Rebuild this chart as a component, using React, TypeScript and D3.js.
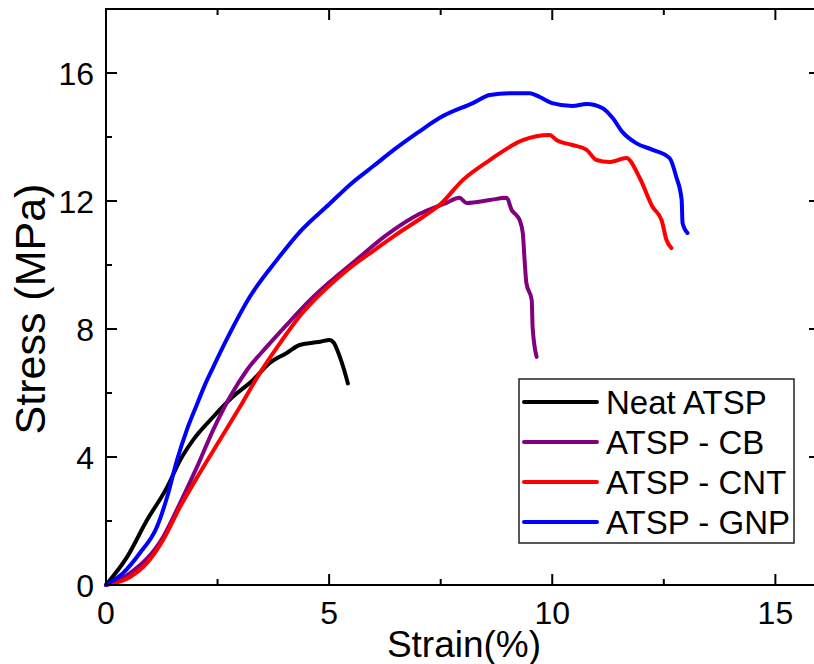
import React from "react";
import * as d3 from "d3";

const seriesNames = ["Neat ATSP", "ATSP - CB", "ATSP - CNT", "ATSP - GNP"];
const seriesColors = ["#000000", "#800080", "#ff0000", "#0000ff"];

const neatX = [0, 0.47, 0.92, 1.37, 1.66, 1.95, 2.4, 2.84, 3.29, 3.67, 4.05, 4.34, 4.63, 4.8, 5.01, 5.1, 5.24, 5.33, 5.42];
const neatY = [0, 0.87, 2.03, 3.06, 3.9, 4.53, 5.25, 5.88, 6.4, 6.94, 7.25, 7.5, 7.57, 7.6, 7.66, 7.58, 7.13, 6.75, 6.3];

const cbX = [0, 0.54, 1.28, 1.66, 2.04, 2.4, 2.78, 3.16, 3.6, 4.05, 4.57, 5.0, 5.6, 6.29, 7.03, 7.63, 7.92, 8.08, 8.6, 8.98, 9.09, 9.2, 9.27, 9.34, 9.38, 9.42, 9.54, 9.56, 9.65];
const cbY = [0, 0.37, 1.5, 2.56, 3.69, 4.84, 5.88, 6.72, 7.44, 8.13, 8.9, 9.45, 10.15, 10.94, 11.6, 11.94, 12.1, 11.94, 12.03, 12.1, 11.72, 11.55, 11.4, 11.0, 10.16, 9.44, 8.9, 8.06, 7.13];

const cntX = [0, 0.54, 0.92, 1.28, 1.66, 2.1, 2.55, 3.0, 3.45, 3.9, 4.34, 4.7, 5.0, 5.5, 6.0, 6.5, 7.1, 7.48, 8.0, 8.6, 9.34, 9.94, 10.1, 10.45, 10.77, 10.99, 11.28, 11.66, 11.95, 12.25, 12.45, 12.56, 12.67];
const cntY = [0, 0.25, 0.69, 1.41, 2.44, 3.5, 4.53, 5.56, 6.63, 7.56, 8.4, 8.95, 9.35, 9.95, 10.45, 10.95, 11.5, 11.88, 12.66, 13.28, 13.9, 14.06, 13.9, 13.75, 13.6, 13.28, 13.22, 13.34, 12.75, 11.81, 11.4, 10.78, 10.53];

const gnpX = [0, 0.38, 0.76, 1.14, 1.37, 1.59, 1.81, 2.04, 2.2, 2.4, 2.75, 3.22, 3.83, 4.34, 5.0, 5.5, 6.0, 6.5, 7.0, 7.48, 8.22, 8.6, 9.04, 9.49, 9.72, 10.0, 10.45, 10.77, 11.13, 11.35, 11.57, 11.89, 12.25, 12.63, 12.78, 12.9, 12.92, 13.03];
const gnpY = [0, 0.37, 1.0, 1.81, 2.75, 3.9, 4.84, 5.65, 6.2, 6.8, 7.8, 9.0, 10.16, 11.03, 11.9, 12.55, 13.1, 13.65, 14.15, 14.6, 15.06, 15.31, 15.37, 15.37, 15.25, 15.06, 14.97, 15.03, 14.9, 14.6, 14.16, 13.8, 13.6, 13.34, 12.75, 12.03, 11.31, 11.0];

const seriesX = [neatX, cbX, cntX, gnpX];
const seriesY = [neatY, cbY, cntY, gnpY];

const xMajor = [0, 5, 10, 15];
const xMinor = [2.5, 7.5, 12.5];
const yMajor = [0, 4, 8, 12, 16];
const yMinor = [2, 6, 10, 14, 18];

const W = 814;
const H = 664;
const left = 106;
const right = 820;
const top = 9;
const bottom = 585;
const FONT = "'Liberation Sans', Arial, sans-serif";

export default function App() {
  const x = d3.scaleLinear().domain([0, 16]).range([left, right]);
  const y = d3.scaleLinear().domain([0, 18]).range([bottom, top]);
  const line = d3
    .line<[number, number]>()
    .x((d) => x(d[0]))
    .y((d) => y(d[1]))
    .curve(d3.curveMonotoneX);

  const majLen = 11;
  const minLen = 6;

  return (
    <svg
      width={W}
      height={H}
      style={{ position: "absolute", left: 0, top: 0, background: "#fff" }}
      fontFamily={FONT}
    >
      <rect x={0} y={0} width={W} height={H} fill="#fff" />
      {seriesX.map((xs, i) => (
        <path
          key={i}
          d={line(xs.map((v, j) => [v, seriesY[i][j]] as [number, number])) || ""}
          fill="none"
          stroke={seriesColors[i]}
          strokeWidth={4}
          strokeLinejoin="round"
          strokeLinecap="round"
        />
      ))}
      <rect x={left} y={top} width={right - left} height={bottom - top} fill="none" stroke="#000" strokeWidth={2} />
      {xMajor.map((v) => (
        <g key={"xM" + v}>
          <line x1={x(v)} x2={x(v)} y1={bottom} y2={bottom - majLen} stroke="#000" strokeWidth={2} />
          <line x1={x(v)} x2={x(v)} y1={top} y2={top + majLen} stroke="#000" strokeWidth={2} />
          <text x={x(v)} y={624} textAnchor="middle" fontSize={32} fill="#000">
            {v}
          </text>
        </g>
      ))}
      {xMinor.map((v) => (
        <g key={"xm" + v}>
          <line x1={x(v)} x2={x(v)} y1={bottom} y2={bottom - minLen} stroke="#000" strokeWidth={2} />
          <line x1={x(v)} x2={x(v)} y1={top} y2={top + minLen} stroke="#000" strokeWidth={2} />
        </g>
      ))}
      {yMajor.map((v) => (
        <g key={"yM" + v}>
          <line x1={left} x2={left + majLen} y1={y(v)} y2={y(v)} stroke="#000" strokeWidth={2} />
          <line x1={right} x2={right - majLen} y1={y(v)} y2={y(v)} stroke="#000" strokeWidth={2} />
          <text x={94} y={y(v)} dy="0.36em" textAnchor="end" fontSize={32} fill="#000">
            {v}
          </text>
        </g>
      ))}
      {yMinor.map((v) => (
        <g key={"ym" + v}>
          <line x1={left} x2={left + minLen} y1={y(v)} y2={y(v)} stroke="#000" strokeWidth={2} />
          <line x1={right} x2={right - minLen} y1={y(v)} y2={y(v)} stroke="#000" strokeWidth={2} />
        </g>
      ))}
      <text x={464} y={657} textAnchor="middle" fontSize={37} fill="#000">
        Strain(%)
      </text>
      <text
        transform={`translate(45, 309) rotate(-90)`}
        textAnchor="middle"
        fontSize={43}
        fill="#000"
      >
        Stress (MPa)
      </text>
      <rect x={519} y={379} width={275} height={164} fill="#fff" stroke="#222" strokeWidth={1.5} />
      {seriesNames.map((name, i) => {
        const cy = 402 + i * 40;
        return (
          <g key={name}>
            <line x1={524} x2={597} y1={cy} y2={cy} stroke={seriesColors[i]} strokeWidth={4} strokeLinecap="round" />
            <text x={606} y={cy} dy="0.36em" fontSize={33} fill="#000">
              {name}
            </text>
          </g>
        );
      })}
    </svg>
  );
}
